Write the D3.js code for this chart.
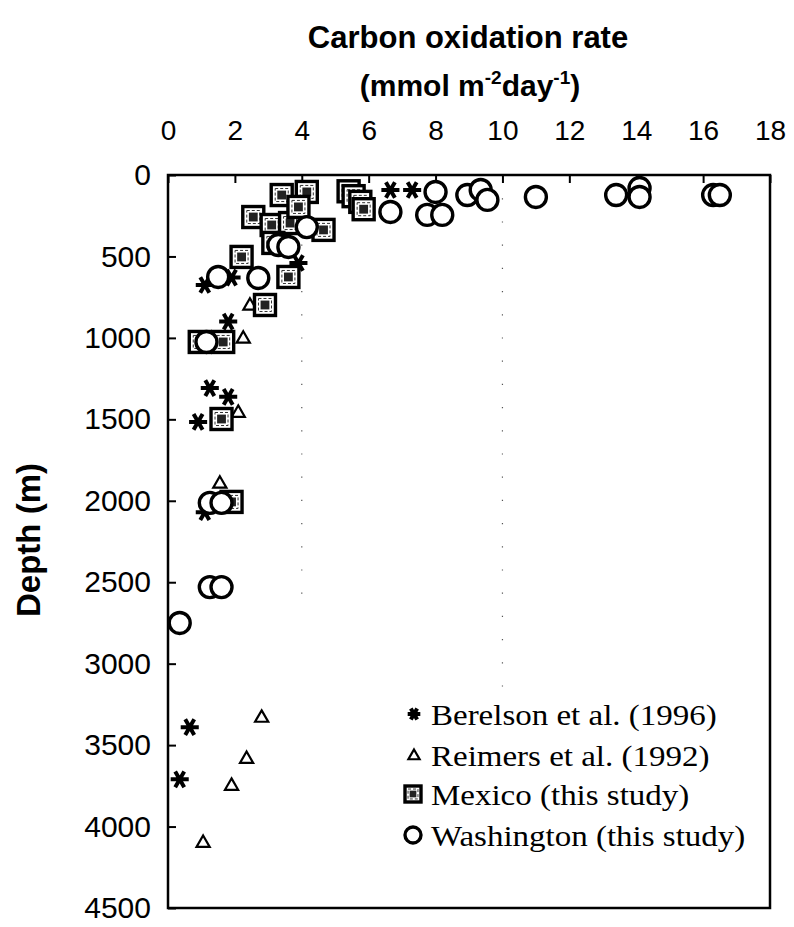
<!DOCTYPE html>
<html>
<head>
<meta charset="utf-8">
<script src="https://cdn.jsdelivr.net/npm/d3@7"></script>
<style>
  html, body { margin: 0; padding: 0; background: #fff; }
  svg { display: block; }
</style>
</head>
<body>
<svg id="chart" width="794" height="927"></svg>
<script>
// ---------- data ----------
const xTicks = [0, 2, 4, 6, 8, 10, 12, 14, 16, 18];
const yTicks = [0, 500, 1000, 1500, 2000, 2500, 3000, 3500, 4000, 4500];

const berelsonRate  = [6.65, 7.3, 3.9, 1.1, 1.9, 1.8, 1.25, 1.8, 0.9, 1.1, 0.65, 0.35];
const berelsonDepth = [92, 92, 540, 675, 630, 900, 1308, 1362, 1516, 2070, 3390, 3710];

const reimersRate  = [2.25, 2.45, 2.1, 1.55, 2.8, 2.35, 1.9, 1.05];
const reimersDepth = [1000, 797, 1455, 1890, 3327, 3580, 3745, 4095];

const mexicoRate  = [3.4, 4.15, 5.4, 5.55, 5.75, 5.85, 2.55, 3.1, 3.65, 3.9, 4.65, 3.15, 2.2, 3.6, 2.9, 0.95, 1.65, 1.6, 1.9];
const mexicoDepth = [123, 104, 100, 130, 165, 210, 258, 307, 295, 196, 337, 417, 503, 626, 798, 1025, 1025, 1498, 2007];

const washRate  = [6.65, 8.0, 7.75, 8.2, 8.95, 9.35, 9.55, 11.0, 13.4, 14.1, 14.1, 16.3, 16.5, 4.15, 3.3, 3.6, 1.5, 2.7, 1.15, 1.25, 1.6, 1.25, 1.6, 0.35];
const washDepth = [227, 104, 245, 245, 123, 92, 153, 135, 123, 80, 135, 123, 123, 320, 430, 442, 626, 632, 1025, 2013, 2013, 2530, 2530, 2750];

const legendLabels = ["Berelson et al. (1996)", "Reimers et al. (1992)", "Mexico (this study)", "Washington (this study)"];

// ---------- layout ----------
const svg = d3.select("#chart");
const x = d3.scaleLinear().domain([0, 18]).range([168, 770]);
const y = d3.scaleLinear().domain([0, 4500]).range([175, 908]);

const sans = "'Liberation Sans', Arial, Helvetica, sans-serif";
const serif = "'Liberation Serif', 'Times New Roman', serif";

// faint dotted gridlines (as in the original scan)
[4, 10].forEach(v => {
  svg.append("line")
    .attr("x1", x(v)).attr("x2", x(v))
    .attr("y1", y(0)).attr("y2", y(v === 10 ? 3200 : 2600))
    .attr("stroke", "#555").attr("stroke-width", 1.2)
    .attr("stroke-dasharray", "1.2,22");
});

// frame
svg.append("rect")
  .attr("x", x(0)).attr("y", y(0))
  .attr("width", x(18) - x(0)).attr("height", y(4500) - y(0))
  .attr("fill", "none").attr("stroke", "#000").attr("stroke-width", 2.5);

// top axis
const gx = svg.append("g").attr("transform", `translate(0,${y(0)})`)
  .call(d3.axisTop(x).tickValues(xTicks).tickSize(-8).tickPadding(35).tickFormat(d3.format("d")));
gx.select(".domain").remove();
gx.selectAll(".tick line").attr("stroke", "#000").attr("stroke-width", 2);
gx.selectAll(".tick text").attr("font-family", sans).attr("font-size", 28).attr("fill", "#000");

// left axis
const gy = svg.append("g").attr("transform", `translate(${x(0)},0)`)
  .call(d3.axisLeft(y).tickValues(yTicks).tickSize(-8).tickPadding(17).tickFormat(d3.format("d")));
gy.select(".domain").remove();
gy.selectAll(".tick line").attr("stroke", "#000").attr("stroke-width", 2);
gy.selectAll(".tick text").attr("font-family", sans).attr("font-size", 30).attr("fill", "#000");

// titles
svg.append("text").attr("x", 468).attr("y", 48).attr("text-anchor", "middle")
  .attr("font-family", sans).attr("font-weight", "bold").attr("font-size", 31)
  .text("Carbon oxidation rate");
const t2 = svg.append("text").attr("x", 470).attr("y", 96).attr("text-anchor", "middle")
  .attr("font-family", sans).attr("font-weight", "bold").attr("font-size", 30);
t2.append("tspan").text("(mmol m");
t2.append("tspan").attr("dy", -12).attr("font-size", 19).text("-2");
t2.append("tspan").attr("dy", 12).text("day");
t2.append("tspan").attr("dy", -12).attr("font-size", 19).text("-1");
t2.append("tspan").attr("dy", 12).text(")");

svg.append("text")
  .attr("transform", `translate(40,540) rotate(-90)`)
  .attr("text-anchor", "middle")
  .attr("font-family", sans).attr("font-weight", "bold").attr("font-size", 33)
  .text("Depth (m)");

// ---------- markers ----------
const starPath = d3.symbol().type(d3.symbolAsterisk).size(230)();
const triPath = d3.symbol().type(d3.symbolTriangle).size(75)();

function drawStar(g, cx, cy, s) {
  g.append("path").attr("d", starPath)
    .attr("transform", `translate(${cx},${cy}) rotate(90) scale(${s})`)
    .attr("fill", "none").attr("stroke", "#000").attr("stroke-width", 4 / s);
}
function drawTri(g, cx, cy, s) {
  g.append("path").attr("d", triPath)
    .attr("transform", `translate(${cx},${cy + 1}) scale(${s})`)
    .attr("fill", "#fff").attr("stroke", "#000").attr("stroke-width", 2.2 / s);
}
function drawSquare(g, cx, cy, h) {
  g.append("rect").attr("x", cx - h).attr("y", cy - h).attr("width", 2 * h).attr("height", 2 * h)
    .attr("fill", "#fff").attr("stroke", "#000").attr("stroke-width", 3.4);
  g.append("rect").attr("x", cx - h * 0.62).attr("y", cy - h * 0.62).attr("width", h * 1.24).attr("height", h * 1.24)
    .attr("fill", "none").attr("stroke", "#333").attr("stroke-width", 1).attr("stroke-dasharray", "3,2");
  g.append("rect").attr("x", cx - h * 0.42).attr("y", cy - h * 0.42).attr("width", h * 0.84).attr("height", h * 0.84)
    .attr("fill", "#222");
}
function drawCircle(g, cx, cy, r) {
  g.append("circle").attr("cx", cx).attr("cy", cy).attr("r", r)
    .attr("fill", "#fff").attr("stroke", "#000").attr("stroke-width", 3.4);
}

const marks = svg.append("g");
reimersRate.forEach((v, i) => drawTri(marks, x(v), y(reimersDepth[i]), 1));
berelsonRate.forEach((v, i) => drawStar(marks, x(v), y(berelsonDepth[i]), 1));
mexicoRate.forEach((v, i) => drawSquare(marks, x(v), y(mexicoDepth[i]), 10.5));
washRate.forEach((v, i) => drawCircle(marks, x(v), y(washDepth[i]), 10.5));

// ---------- legend ----------
const legY = [714, 755, 794, 835];
const lg = svg.append("g");
drawStar(lg, 414, legY[0], 0.7);
drawTri(lg, 414, legY[1], 0.85);
drawSquare(lg, 413, legY[2], 8);
drawCircle(lg, 413, legY[3], 8);
legendLabels.forEach((t, i) => {
  lg.append("text")
    .attr("transform", `translate(431,${legY[i]}) scale(1.1,1)`)
    .attr("dy", "0.35em")
    .attr("font-family", serif).attr("font-size", 30).attr("fill", "#000")
    .text(t);
});
</script>
</body>
</html>
